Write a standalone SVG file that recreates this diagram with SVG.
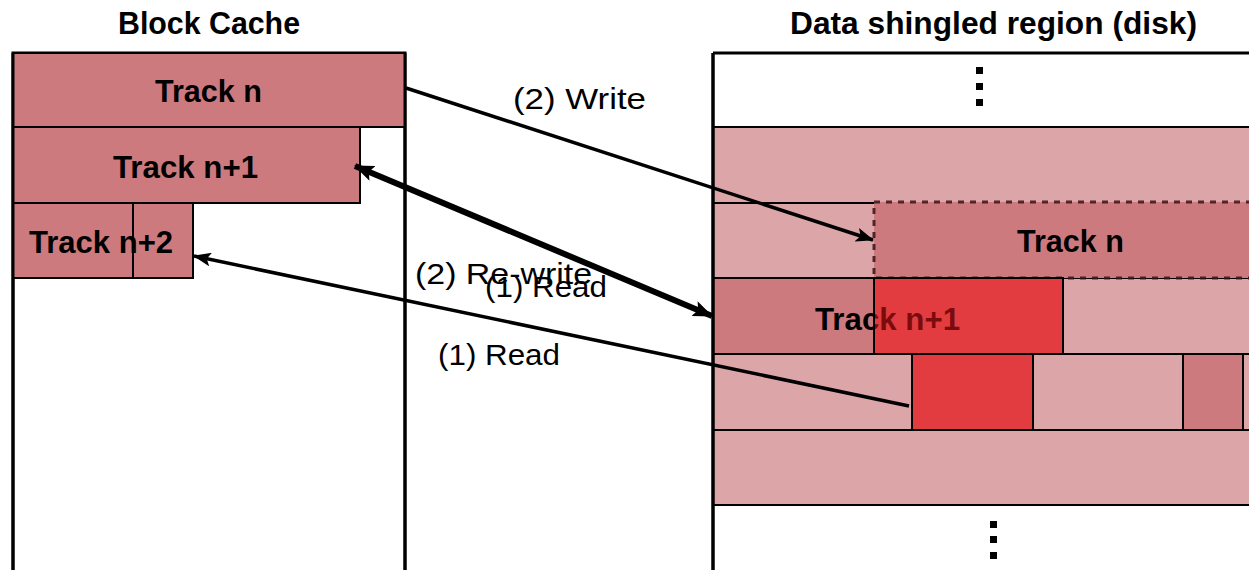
<svg xmlns="http://www.w3.org/2000/svg" width="1249" height="570" viewBox="0 0 1249 570">
<style>
.b{font-family:"Liberation Sans",Arial,sans-serif;font-weight:bold;font-size:31px;fill:#000}
.r{font-family:"Liberation Sans",Arial,sans-serif;font-size:30px;fill:#000}
.lp{fill:#DCA5A8;stroke:#000;stroke-width:2}
.dp{fill:#CC7A7E;stroke:#000;stroke-width:2}
.rd{fill:#E33C40;stroke:#000;stroke-width:2}
.dot{fill:#000}
.ln{stroke:#000;fill:none}
</style>
<defs>
<marker id="ah" viewBox="0 0 18 14" refX="17" refY="7" markerWidth="18" markerHeight="14" markerUnits="userSpaceOnUse" orient="auto-start-reverse">
<path d="M0,0 L18,7 L0,14 L4,7 z" fill="#000"/>
</marker>
<marker id="ahb" viewBox="0 0 20 16" refX="19" refY="8" markerWidth="20" markerHeight="16" markerUnits="userSpaceOnUse" orient="auto-start-reverse">
<path d="M0,0 L20,8 L0,16 L4,8 z" fill="#000"/>
</marker>
<clipPath id="redclip"><rect x="874" y="278" width="189" height="76"/></clipPath>
</defs>
<rect width="1249" height="570" fill="#fff"/>
<text class="b" x="118" y="34" textLength="182" lengthAdjust="spacingAndGlyphs">Block Cache</text>
<text class="b" x="790" y="34" textLength="407" lengthAdjust="spacingAndGlyphs">Data shingled region (disk)</text>
<g id="block-cache">
<rect x="13" y="53" width="392" height="540" fill="#fff" stroke="#000" stroke-width="3"/>
</g>
<g id="cache-track-n">
<rect class="dp" x="13" y="53" width="392" height="74"/>
<text class="b" x="155" y="102" textLength="107" lengthAdjust="spacingAndGlyphs">Track n</text>
</g>
<g id="cache-track-n1">
<rect class="dp" x="13" y="127" width="347" height="76"/>
<text class="b" x="113" y="178" textLength="145" lengthAdjust="spacingAndGlyphs">Track n+1</text>
</g>
<g id="cache-track-n2">
<rect class="dp" x="13" y="203" width="120" height="75"/>
<rect class="dp" x="133" y="203" width="60" height="75"/>
<text class="b" x="29" y="253" textLength="144" lengthAdjust="spacingAndGlyphs">Track n+2</text>
</g>
<line x1="13" y1="53" x2="13" y2="570" stroke="#000" stroke-width="3"/>
<line x1="405" y1="53" x2="405" y2="570" stroke="#000" stroke-width="3"/>
<g id="disk">
<rect class="lp" x="713" y="127" width="560" height="76" stroke-width="1.5"/>
<rect class="lp" x="713" y="203" width="560" height="75"/>
<rect class="lp" x="1063" y="278" width="210" height="76"/>
<rect class="lp" x="713" y="354" width="199" height="76"/>
<rect class="lp" x="1033" y="354" width="150" height="76"/>
<rect class="dp" x="1183" y="354" width="60" height="76"/>
<rect class="lp" x="1243" y="354" width="30" height="76"/>
<rect class="lp" x="713" y="430" width="560" height="75" stroke-width="1.5"/>
<rect class="dot" x="976" y="67" width="7" height="7"/>
<rect class="dot" x="976" y="83" width="7" height="7"/>
<rect class="dot" x="976" y="99" width="7" height="7"/>
<rect class="dot" x="990" y="521" width="7" height="7"/>
<rect class="dot" x="990" y="536" width="7" height="7"/>
<rect class="dot" x="990" y="552" width="7" height="7"/>
</g>
<g id="disk-track-n">
<rect x="874" y="202" width="392" height="76" fill="#CC7A7E" stroke="#3a1215" stroke-opacity="0.85" stroke-width="3" stroke-dasharray="6 6"/>
<text class="b" x="1017" y="252" textLength="107" lengthAdjust="spacingAndGlyphs">Track n</text>
</g>
<g id="disk-track-n1">
<rect class="dp" x="713" y="278" width="161" height="76"/>
<text class="b" x="815" y="330" textLength="145" lengthAdjust="spacingAndGlyphs">Track n+1</text>
<rect x="874" y="278" width="189" height="76" fill="#E33C40"/>
<text class="b" x="815" y="330" textLength="145" lengthAdjust="spacingAndGlyphs" clip-path="url(#redclip)" style="fill:#7A0C0E">Track n+1</text>
<rect x="874" y="278" width="189" height="76" fill="none" stroke="#000" stroke-width="2"/>
</g>
<g id="disk-track-n2">
<rect class="rd" x="912" y="354" width="121" height="76"/>
</g>
<line x1="713" y1="53" x2="1249" y2="53" stroke="#000" stroke-width="3"/>
<line x1="713" y1="53" x2="713" y2="570" stroke="#000" stroke-width="3.5"/>
<g id="connectors">
<line class="ln" x1="406" y1="88" x2="873" y2="240" stroke-width="3.5" marker-end="url(#ah)"/>
<line class="ln" x1="355" y1="166" x2="712" y2="316" stroke-width="6" marker-start="url(#ahb)" marker-end="url(#ahb)"/>
<line class="ln" x1="909" y1="406" x2="194" y2="256" stroke-width="3.5" marker-end="url(#ah)"/>
<text class="r" x="513" y="109" textLength="133" lengthAdjust="spacingAndGlyphs">(2) Write</text>
<text class="r" x="415" y="284" textLength="177" lengthAdjust="spacingAndGlyphs">(2) Re-write</text>
<text class="r" x="485" y="297" textLength="122" lengthAdjust="spacingAndGlyphs">(1) Read</text>
<text class="r" x="438" y="365" textLength="122" lengthAdjust="spacingAndGlyphs">(1) Read</text>
</g>
</svg>
